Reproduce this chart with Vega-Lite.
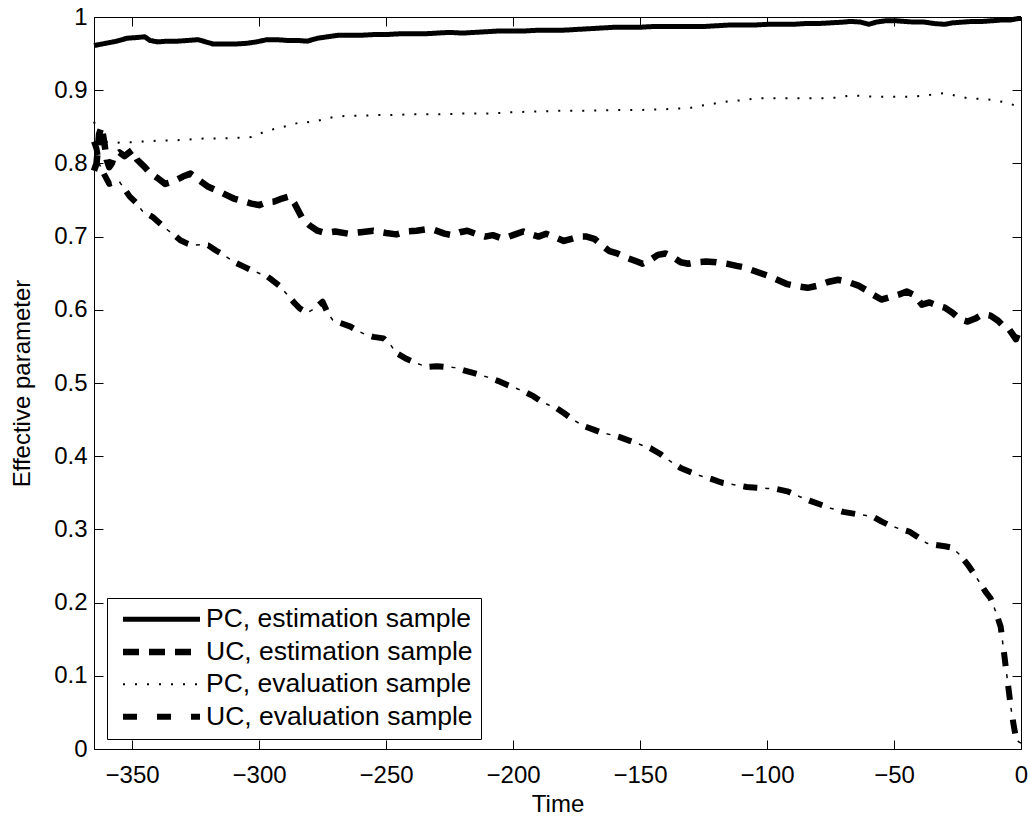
{
  "$schema": "https://vega.github.io/schema/vega-lite/v6.json",
  "width": 927,
  "height": 732,
  "autosize": {"type": "none"},
  "padding": {"left": 94, "top": 17, "right": 9, "bottom": 71},
  "background": "white",
  "data": {"values": [
    {"series": "PC, estimation sample", "t": -365, "v": 0.961},
    {"series": "PC, estimation sample", "t": -362, "v": 0.963},
    {"series": "PC, estimation sample", "t": -359, "v": 0.965},
    {"series": "PC, estimation sample", "t": -356, "v": 0.967},
    {"series": "PC, estimation sample", "t": -352, "v": 0.971},
    {"series": "PC, estimation sample", "t": -348, "v": 0.972},
    {"series": "PC, estimation sample", "t": -345, "v": 0.973},
    {"series": "PC, estimation sample", "t": -343, "v": 0.968},
    {"series": "PC, estimation sample", "t": -340, "v": 0.966},
    {"series": "PC, estimation sample", "t": -336, "v": 0.967},
    {"series": "PC, estimation sample", "t": -332, "v": 0.967},
    {"series": "PC, estimation sample", "t": -328, "v": 0.968},
    {"series": "PC, estimation sample", "t": -324, "v": 0.969},
    {"series": "PC, estimation sample", "t": -321, "v": 0.966},
    {"series": "PC, estimation sample", "t": -318, "v": 0.963},
    {"series": "PC, estimation sample", "t": -314, "v": 0.963},
    {"series": "PC, estimation sample", "t": -310, "v": 0.963},
    {"series": "PC, estimation sample", "t": -305, "v": 0.964},
    {"series": "PC, estimation sample", "t": -301, "v": 0.966},
    {"series": "PC, estimation sample", "t": -297, "v": 0.969},
    {"series": "PC, estimation sample", "t": -293, "v": 0.969},
    {"series": "PC, estimation sample", "t": -289, "v": 0.968},
    {"series": "PC, estimation sample", "t": -285, "v": 0.968},
    {"series": "PC, estimation sample", "t": -281, "v": 0.967},
    {"series": "PC, estimation sample", "t": -277, "v": 0.971},
    {"series": "PC, estimation sample", "t": -273, "v": 0.973},
    {"series": "PC, estimation sample", "t": -269, "v": 0.975},
    {"series": "PC, estimation sample", "t": -265, "v": 0.975},
    {"series": "PC, estimation sample", "t": -260, "v": 0.975},
    {"series": "PC, estimation sample", "t": -255, "v": 0.976},
    {"series": "PC, estimation sample", "t": -250, "v": 0.976},
    {"series": "PC, estimation sample", "t": -245, "v": 0.977},
    {"series": "PC, estimation sample", "t": -240, "v": 0.977},
    {"series": "PC, estimation sample", "t": -235, "v": 0.977},
    {"series": "PC, estimation sample", "t": -230, "v": 0.978},
    {"series": "PC, estimation sample", "t": -225, "v": 0.979},
    {"series": "PC, estimation sample", "t": -220, "v": 0.978},
    {"series": "PC, estimation sample", "t": -215, "v": 0.979},
    {"series": "PC, estimation sample", "t": -210, "v": 0.980},
    {"series": "PC, estimation sample", "t": -205, "v": 0.981},
    {"series": "PC, estimation sample", "t": -200, "v": 0.981},
    {"series": "PC, estimation sample", "t": -195, "v": 0.981},
    {"series": "PC, estimation sample", "t": -190, "v": 0.982},
    {"series": "PC, estimation sample", "t": -185, "v": 0.982},
    {"series": "PC, estimation sample", "t": -180, "v": 0.982},
    {"series": "PC, estimation sample", "t": -175, "v": 0.983},
    {"series": "PC, estimation sample", "t": -170, "v": 0.984},
    {"series": "PC, estimation sample", "t": -165, "v": 0.985},
    {"series": "PC, estimation sample", "t": -160, "v": 0.986},
    {"series": "PC, estimation sample", "t": -155, "v": 0.986},
    {"series": "PC, estimation sample", "t": -150, "v": 0.986},
    {"series": "PC, estimation sample", "t": -145, "v": 0.987},
    {"series": "PC, estimation sample", "t": -140, "v": 0.987},
    {"series": "PC, estimation sample", "t": -135, "v": 0.987},
    {"series": "PC, estimation sample", "t": -130, "v": 0.987},
    {"series": "PC, estimation sample", "t": -125, "v": 0.987},
    {"series": "PC, estimation sample", "t": -120, "v": 0.988},
    {"series": "PC, estimation sample", "t": -115, "v": 0.989},
    {"series": "PC, estimation sample", "t": -110, "v": 0.989},
    {"series": "PC, estimation sample", "t": -105, "v": 0.989},
    {"series": "PC, estimation sample", "t": -100, "v": 0.990},
    {"series": "PC, estimation sample", "t": -95, "v": 0.990},
    {"series": "PC, estimation sample", "t": -90, "v": 0.990},
    {"series": "PC, estimation sample", "t": -85, "v": 0.991},
    {"series": "PC, estimation sample", "t": -80, "v": 0.991},
    {"series": "PC, estimation sample", "t": -75, "v": 0.992},
    {"series": "PC, estimation sample", "t": -70, "v": 0.993},
    {"series": "PC, estimation sample", "t": -67, "v": 0.994},
    {"series": "PC, estimation sample", "t": -63, "v": 0.993},
    {"series": "PC, estimation sample", "t": -60, "v": 0.990},
    {"series": "PC, estimation sample", "t": -57, "v": 0.993},
    {"series": "PC, estimation sample", "t": -53, "v": 0.995},
    {"series": "PC, estimation sample", "t": -50, "v": 0.995},
    {"series": "PC, estimation sample", "t": -46, "v": 0.994},
    {"series": "PC, estimation sample", "t": -42, "v": 0.993},
    {"series": "PC, estimation sample", "t": -38, "v": 0.993},
    {"series": "PC, estimation sample", "t": -34, "v": 0.991},
    {"series": "PC, estimation sample", "t": -30, "v": 0.990},
    {"series": "PC, estimation sample", "t": -27, "v": 0.992},
    {"series": "PC, estimation sample", "t": -23, "v": 0.993},
    {"series": "PC, estimation sample", "t": -19, "v": 0.994},
    {"series": "PC, estimation sample", "t": -15, "v": 0.994},
    {"series": "PC, estimation sample", "t": -11, "v": 0.995},
    {"series": "PC, estimation sample", "t": -7, "v": 0.996},
    {"series": "PC, estimation sample", "t": -4, "v": 0.996},
    {"series": "PC, estimation sample", "t": -1, "v": 0.998},
    {"series": "PC, estimation sample", "t": 0, "v": 0.998},

    {"series": "UC, estimation sample", "t": -365, "v": 0.79},
    {"series": "UC, estimation sample", "t": -364, "v": 0.80},
    {"series": "UC, estimation sample", "t": -363, "v": 0.84},
    {"series": "UC, estimation sample", "t": -362, "v": 0.85},
    {"series": "UC, estimation sample", "t": -361, "v": 0.83},
    {"series": "UC, estimation sample", "t": -360, "v": 0.805},
    {"series": "UC, estimation sample", "t": -359, "v": 0.795},
    {"series": "UC, estimation sample", "t": -358, "v": 0.80},
    {"series": "UC, estimation sample", "t": -357, "v": 0.81},
    {"series": "UC, estimation sample", "t": -355, "v": 0.815},
    {"series": "UC, estimation sample", "t": -353, "v": 0.81},
    {"series": "UC, estimation sample", "t": -350, "v": 0.818},
    {"series": "UC, estimation sample", "t": -348, "v": 0.805},
    {"series": "UC, estimation sample", "t": -345, "v": 0.795},
    {"series": "UC, estimation sample", "t": -343, "v": 0.787},
    {"series": "UC, estimation sample", "t": -340, "v": 0.78},
    {"series": "UC, estimation sample", "t": -337, "v": 0.772},
    {"series": "UC, estimation sample", "t": -334, "v": 0.775},
    {"series": "UC, estimation sample", "t": -330, "v": 0.782},
    {"series": "UC, estimation sample", "t": -327, "v": 0.786},
    {"series": "UC, estimation sample", "t": -324, "v": 0.778},
    {"series": "UC, estimation sample", "t": -320, "v": 0.768},
    {"series": "UC, estimation sample", "t": -316, "v": 0.762},
    {"series": "UC, estimation sample", "t": -313, "v": 0.757},
    {"series": "UC, estimation sample", "t": -310, "v": 0.752},
    {"series": "UC, estimation sample", "t": -306, "v": 0.748},
    {"series": "UC, estimation sample", "t": -303, "v": 0.745},
    {"series": "UC, estimation sample", "t": -300, "v": 0.743},
    {"series": "UC, estimation sample", "t": -297, "v": 0.747},
    {"series": "UC, estimation sample", "t": -294, "v": 0.748},
    {"series": "UC, estimation sample", "t": -291, "v": 0.752},
    {"series": "UC, estimation sample", "t": -288, "v": 0.755},
    {"series": "UC, estimation sample", "t": -286, "v": 0.745},
    {"series": "UC, estimation sample", "t": -283, "v": 0.725},
    {"series": "UC, estimation sample", "t": -280, "v": 0.715},
    {"series": "UC, estimation sample", "t": -277, "v": 0.708},
    {"series": "UC, estimation sample", "t": -274, "v": 0.705},
    {"series": "UC, estimation sample", "t": -270, "v": 0.707},
    {"series": "UC, estimation sample", "t": -265, "v": 0.704},
    {"series": "UC, estimation sample", "t": -260, "v": 0.706},
    {"series": "UC, estimation sample", "t": -255, "v": 0.708},
    {"series": "UC, estimation sample", "t": -250, "v": 0.705},
    {"series": "UC, estimation sample", "t": -246, "v": 0.703},
    {"series": "UC, estimation sample", "t": -242, "v": 0.707},
    {"series": "UC, estimation sample", "t": -238, "v": 0.708},
    {"series": "UC, estimation sample", "t": -234, "v": 0.710},
    {"series": "UC, estimation sample", "t": -231, "v": 0.709},
    {"series": "UC, estimation sample", "t": -227, "v": 0.704},
    {"series": "UC, estimation sample", "t": -224, "v": 0.702},
    {"series": "UC, estimation sample", "t": -221, "v": 0.706},
    {"series": "UC, estimation sample", "t": -218, "v": 0.708},
    {"series": "UC, estimation sample", "t": -214, "v": 0.703},
    {"series": "UC, estimation sample", "t": -211, "v": 0.700},
    {"series": "UC, estimation sample", "t": -208, "v": 0.702},
    {"series": "UC, estimation sample", "t": -204, "v": 0.697},
    {"series": "UC, estimation sample", "t": -200, "v": 0.702},
    {"series": "UC, estimation sample", "t": -196, "v": 0.707},
    {"series": "UC, estimation sample", "t": -193, "v": 0.703},
    {"series": "UC, estimation sample", "t": -190, "v": 0.700},
    {"series": "UC, estimation sample", "t": -187, "v": 0.704},
    {"series": "UC, estimation sample", "t": -184, "v": 0.700},
    {"series": "UC, estimation sample", "t": -180, "v": 0.694},
    {"series": "UC, estimation sample", "t": -177, "v": 0.697},
    {"series": "UC, estimation sample", "t": -174, "v": 0.700},
    {"series": "UC, estimation sample", "t": -171, "v": 0.700},
    {"series": "UC, estimation sample", "t": -168, "v": 0.697},
    {"series": "UC, estimation sample", "t": -165, "v": 0.688},
    {"series": "UC, estimation sample", "t": -162, "v": 0.680},
    {"series": "UC, estimation sample", "t": -159, "v": 0.677},
    {"series": "UC, estimation sample", "t": -156, "v": 0.672},
    {"series": "UC, estimation sample", "t": -152, "v": 0.667},
    {"series": "UC, estimation sample", "t": -149, "v": 0.663},
    {"series": "UC, estimation sample", "t": -146, "v": 0.668},
    {"series": "UC, estimation sample", "t": -143, "v": 0.675},
    {"series": "UC, estimation sample", "t": -140, "v": 0.677},
    {"series": "UC, estimation sample", "t": -137, "v": 0.672},
    {"series": "UC, estimation sample", "t": -134, "v": 0.665},
    {"series": "UC, estimation sample", "t": -131, "v": 0.663},
    {"series": "UC, estimation sample", "t": -128, "v": 0.665},
    {"series": "UC, estimation sample", "t": -124, "v": 0.666},
    {"series": "UC, estimation sample", "t": -120, "v": 0.665},
    {"series": "UC, estimation sample", "t": -116, "v": 0.663},
    {"series": "UC, estimation sample", "t": -112, "v": 0.660},
    {"series": "UC, estimation sample", "t": -109, "v": 0.658},
    {"series": "UC, estimation sample", "t": -105, "v": 0.653},
    {"series": "UC, estimation sample", "t": -100, "v": 0.647},
    {"series": "UC, estimation sample", "t": -96, "v": 0.641},
    {"series": "UC, estimation sample", "t": -92, "v": 0.635},
    {"series": "UC, estimation sample", "t": -88, "v": 0.632},
    {"series": "UC, estimation sample", "t": -84, "v": 0.630},
    {"series": "UC, estimation sample", "t": -80, "v": 0.633},
    {"series": "UC, estimation sample", "t": -76, "v": 0.638},
    {"series": "UC, estimation sample", "t": -72, "v": 0.641},
    {"series": "UC, estimation sample", "t": -68, "v": 0.638},
    {"series": "UC, estimation sample", "t": -64, "v": 0.633},
    {"series": "UC, estimation sample", "t": -61, "v": 0.627},
    {"series": "UC, estimation sample", "t": -58, "v": 0.620},
    {"series": "UC, estimation sample", "t": -55, "v": 0.614},
    {"series": "UC, estimation sample", "t": -52, "v": 0.617},
    {"series": "UC, estimation sample", "t": -48, "v": 0.621},
    {"series": "UC, estimation sample", "t": -45, "v": 0.625},
    {"series": "UC, estimation sample", "t": -42, "v": 0.620},
    {"series": "UC, estimation sample", "t": -39, "v": 0.607},
    {"series": "UC, estimation sample", "t": -36, "v": 0.610},
    {"series": "UC, estimation sample", "t": -33, "v": 0.606},
    {"series": "UC, estimation sample", "t": -30, "v": 0.603},
    {"series": "UC, estimation sample", "t": -27, "v": 0.596},
    {"series": "UC, estimation sample", "t": -24, "v": 0.587},
    {"series": "UC, estimation sample", "t": -21, "v": 0.584},
    {"series": "UC, estimation sample", "t": -18, "v": 0.588},
    {"series": "UC, estimation sample", "t": -15, "v": 0.594},
    {"series": "UC, estimation sample", "t": -12, "v": 0.592},
    {"series": "UC, estimation sample", "t": -9, "v": 0.585},
    {"series": "UC, estimation sample", "t": -7, "v": 0.578},
    {"series": "UC, estimation sample", "t": -5, "v": 0.575},
    {"series": "UC, estimation sample", "t": -3, "v": 0.565},
    {"series": "UC, estimation sample", "t": -2, "v": 0.560},
    {"series": "UC, estimation sample", "t": -1, "v": 0.570},
    {"series": "UC, estimation sample", "t": 0, "v": 0.575},

    {"series": "PC, evaluation sample", "t": -365, "v": 0.857},
    {"series": "PC, evaluation sample", "t": -363, "v": 0.840},
    {"series": "PC, evaluation sample", "t": -361, "v": 0.830},
    {"series": "PC, evaluation sample", "t": -358, "v": 0.828},
    {"series": "PC, evaluation sample", "t": -350, "v": 0.829},
    {"series": "PC, evaluation sample", "t": -340, "v": 0.831},
    {"series": "PC, evaluation sample", "t": -330, "v": 0.832},
    {"series": "PC, evaluation sample", "t": -322, "v": 0.834},
    {"series": "PC, evaluation sample", "t": -315, "v": 0.834},
    {"series": "PC, evaluation sample", "t": -308, "v": 0.835},
    {"series": "PC, evaluation sample", "t": -303, "v": 0.836},
    {"series": "PC, evaluation sample", "t": -298, "v": 0.843},
    {"series": "PC, evaluation sample", "t": -293, "v": 0.848},
    {"series": "PC, evaluation sample", "t": -288, "v": 0.852},
    {"series": "PC, evaluation sample", "t": -283, "v": 0.857},
    {"series": "PC, evaluation sample", "t": -279, "v": 0.856},
    {"series": "PC, evaluation sample", "t": -275, "v": 0.860},
    {"series": "PC, evaluation sample", "t": -270, "v": 0.864},
    {"series": "PC, evaluation sample", "t": -265, "v": 0.865},
    {"series": "PC, evaluation sample", "t": -260, "v": 0.865},
    {"series": "PC, evaluation sample", "t": -255, "v": 0.866},
    {"series": "PC, evaluation sample", "t": -248, "v": 0.866},
    {"series": "PC, evaluation sample", "t": -240, "v": 0.867},
    {"series": "PC, evaluation sample", "t": -230, "v": 0.867},
    {"series": "PC, evaluation sample", "t": -220, "v": 0.868},
    {"series": "PC, evaluation sample", "t": -210, "v": 0.868},
    {"series": "PC, evaluation sample", "t": -200, "v": 0.870},
    {"series": "PC, evaluation sample", "t": -190, "v": 0.871},
    {"series": "PC, evaluation sample", "t": -180, "v": 0.872},
    {"series": "PC, evaluation sample", "t": -170, "v": 0.872},
    {"series": "PC, evaluation sample", "t": -160, "v": 0.873},
    {"series": "PC, evaluation sample", "t": -150, "v": 0.873},
    {"series": "PC, evaluation sample", "t": -140, "v": 0.874},
    {"series": "PC, evaluation sample", "t": -130, "v": 0.876},
    {"series": "PC, evaluation sample", "t": -126, "v": 0.879},
    {"series": "PC, evaluation sample", "t": -122, "v": 0.881},
    {"series": "PC, evaluation sample", "t": -117, "v": 0.884},
    {"series": "PC, evaluation sample", "t": -111, "v": 0.886},
    {"series": "PC, evaluation sample", "t": -104, "v": 0.889},
    {"series": "PC, evaluation sample", "t": -97, "v": 0.889},
    {"series": "PC, evaluation sample", "t": -91, "v": 0.889},
    {"series": "PC, evaluation sample", "t": -84, "v": 0.889},
    {"series": "PC, evaluation sample", "t": -78, "v": 0.889},
    {"series": "PC, evaluation sample", "t": -72, "v": 0.890},
    {"series": "PC, evaluation sample", "t": -67, "v": 0.893},
    {"series": "PC, evaluation sample", "t": -62, "v": 0.892},
    {"series": "PC, evaluation sample", "t": -57, "v": 0.891},
    {"series": "PC, evaluation sample", "t": -50, "v": 0.891},
    {"series": "PC, evaluation sample", "t": -44, "v": 0.891},
    {"series": "PC, evaluation sample", "t": -37, "v": 0.893},
    {"series": "PC, evaluation sample", "t": -30, "v": 0.896},
    {"series": "PC, evaluation sample", "t": -25, "v": 0.892},
    {"series": "PC, evaluation sample", "t": -21, "v": 0.889},
    {"series": "PC, evaluation sample", "t": -16, "v": 0.888},
    {"series": "PC, evaluation sample", "t": -12, "v": 0.887},
    {"series": "PC, evaluation sample", "t": -7, "v": 0.884},
    {"series": "PC, evaluation sample", "t": -3, "v": 0.880},
    {"series": "PC, evaluation sample", "t": 0, "v": 0.878},

    {"series": "UC, evaluation sample", "t": -365, "v": 0.830},
    {"series": "UC, evaluation sample", "t": -364, "v": 0.820},
    {"series": "UC, evaluation sample", "t": -363, "v": 0.800},
    {"series": "UC, evaluation sample", "t": -361, "v": 0.785},
    {"series": "UC, evaluation sample", "t": -359, "v": 0.772},
    {"series": "UC, evaluation sample", "t": -357, "v": 0.774},
    {"series": "UC, evaluation sample", "t": -355, "v": 0.775},
    {"series": "UC, evaluation sample", "t": -353, "v": 0.765},
    {"series": "UC, evaluation sample", "t": -351, "v": 0.755},
    {"series": "UC, evaluation sample", "t": -348, "v": 0.745},
    {"series": "UC, evaluation sample", "t": -346, "v": 0.735},
    {"series": "UC, evaluation sample", "t": -342, "v": 0.727},
    {"series": "UC, evaluation sample", "t": -339, "v": 0.718},
    {"series": "UC, evaluation sample", "t": -336, "v": 0.709},
    {"series": "UC, evaluation sample", "t": -333, "v": 0.701},
    {"series": "UC, evaluation sample", "t": -331, "v": 0.695},
    {"series": "UC, evaluation sample", "t": -328, "v": 0.690},
    {"series": "UC, evaluation sample", "t": -326, "v": 0.688},
    {"series": "UC, evaluation sample", "t": -323, "v": 0.689},
    {"series": "UC, evaluation sample", "t": -320, "v": 0.688},
    {"series": "UC, evaluation sample", "t": -317, "v": 0.681},
    {"series": "UC, evaluation sample", "t": -314, "v": 0.675},
    {"series": "UC, evaluation sample", "t": -311, "v": 0.668},
    {"series": "UC, evaluation sample", "t": -309, "v": 0.664},
    {"series": "UC, evaluation sample", "t": -306, "v": 0.659},
    {"series": "UC, evaluation sample", "t": -303, "v": 0.654},
    {"series": "UC, evaluation sample", "t": -300, "v": 0.650},
    {"series": "UC, evaluation sample", "t": -297, "v": 0.646},
    {"series": "UC, evaluation sample", "t": -295, "v": 0.641},
    {"series": "UC, evaluation sample", "t": -292, "v": 0.633},
    {"series": "UC, evaluation sample", "t": -290, "v": 0.625},
    {"series": "UC, evaluation sample", "t": -288, "v": 0.617},
    {"series": "UC, evaluation sample", "t": -286, "v": 0.609},
    {"series": "UC, evaluation sample", "t": -284, "v": 0.602},
    {"series": "UC, evaluation sample", "t": -281, "v": 0.596},
    {"series": "UC, evaluation sample", "t": -278, "v": 0.602},
    {"series": "UC, evaluation sample", "t": -275, "v": 0.611},
    {"series": "UC, evaluation sample", "t": -273, "v": 0.596},
    {"series": "UC, evaluation sample", "t": -271, "v": 0.586},
    {"series": "UC, evaluation sample", "t": -268, "v": 0.582},
    {"series": "UC, evaluation sample", "t": -264, "v": 0.577},
    {"series": "UC, evaluation sample", "t": -261, "v": 0.571},
    {"series": "UC, evaluation sample", "t": -258, "v": 0.566},
    {"series": "UC, evaluation sample", "t": -255, "v": 0.563},
    {"series": "UC, evaluation sample", "t": -251, "v": 0.561},
    {"series": "UC, evaluation sample", "t": -248, "v": 0.551},
    {"series": "UC, evaluation sample", "t": -246, "v": 0.541},
    {"series": "UC, evaluation sample", "t": -242, "v": 0.533},
    {"series": "UC, evaluation sample", "t": -238, "v": 0.527},
    {"series": "UC, evaluation sample", "t": -234, "v": 0.522},
    {"series": "UC, evaluation sample", "t": -230, "v": 0.523},
    {"series": "UC, evaluation sample", "t": -226, "v": 0.522},
    {"series": "UC, evaluation sample", "t": -223, "v": 0.521},
    {"series": "UC, evaluation sample", "t": -219, "v": 0.517},
    {"series": "UC, evaluation sample", "t": -215, "v": 0.513},
    {"series": "UC, evaluation sample", "t": -210, "v": 0.508},
    {"series": "UC, evaluation sample", "t": -206, "v": 0.503},
    {"series": "UC, evaluation sample", "t": -202, "v": 0.497},
    {"series": "UC, evaluation sample", "t": -199, "v": 0.493},
    {"series": "UC, evaluation sample", "t": -196, "v": 0.489},
    {"series": "UC, evaluation sample", "t": -192, "v": 0.482},
    {"series": "UC, evaluation sample", "t": -189, "v": 0.475},
    {"series": "UC, evaluation sample", "t": -186, "v": 0.470},
    {"series": "UC, evaluation sample", "t": -183, "v": 0.466},
    {"series": "UC, evaluation sample", "t": -180, "v": 0.459},
    {"series": "UC, evaluation sample", "t": -176, "v": 0.449},
    {"series": "UC, evaluation sample", "t": -172, "v": 0.441},
    {"series": "UC, evaluation sample", "t": -168, "v": 0.436},
    {"series": "UC, evaluation sample", "t": -165, "v": 0.432},
    {"series": "UC, evaluation sample", "t": -161, "v": 0.429},
    {"series": "UC, evaluation sample", "t": -158, "v": 0.426},
    {"series": "UC, evaluation sample", "t": -154, "v": 0.421},
    {"series": "UC, evaluation sample", "t": -150, "v": 0.416},
    {"series": "UC, evaluation sample", "t": -146, "v": 0.411},
    {"series": "UC, evaluation sample", "t": -142, "v": 0.403},
    {"series": "UC, evaluation sample", "t": -138, "v": 0.393},
    {"series": "UC, evaluation sample", "t": -134, "v": 0.384},
    {"series": "UC, evaluation sample", "t": -130, "v": 0.378},
    {"series": "UC, evaluation sample", "t": -127, "v": 0.374},
    {"series": "UC, evaluation sample", "t": -122, "v": 0.369},
    {"series": "UC, evaluation sample", "t": -118, "v": 0.364},
    {"series": "UC, evaluation sample", "t": -113, "v": 0.361},
    {"series": "UC, evaluation sample", "t": -108, "v": 0.358},
    {"series": "UC, evaluation sample", "t": -104, "v": 0.357},
    {"series": "UC, evaluation sample", "t": -100, "v": 0.356},
    {"series": "UC, evaluation sample", "t": -96, "v": 0.355},
    {"series": "UC, evaluation sample", "t": -92, "v": 0.352},
    {"series": "UC, evaluation sample", "t": -88, "v": 0.346},
    {"series": "UC, evaluation sample", "t": -83, "v": 0.339},
    {"series": "UC, evaluation sample", "t": -79, "v": 0.334},
    {"series": "UC, evaluation sample", "t": -75, "v": 0.329},
    {"series": "UC, evaluation sample", "t": -70, "v": 0.324},
    {"series": "UC, evaluation sample", "t": -65, "v": 0.321},
    {"series": "UC, evaluation sample", "t": -61, "v": 0.319},
    {"series": "UC, evaluation sample", "t": -58, "v": 0.317},
    {"series": "UC, evaluation sample", "t": -55, "v": 0.311},
    {"series": "UC, evaluation sample", "t": -52, "v": 0.306},
    {"series": "UC, evaluation sample", "t": -48, "v": 0.301},
    {"series": "UC, evaluation sample", "t": -44, "v": 0.297},
    {"series": "UC, evaluation sample", "t": -40, "v": 0.288},
    {"series": "UC, evaluation sample", "t": -37, "v": 0.281},
    {"series": "UC, evaluation sample", "t": -34, "v": 0.279},
    {"series": "UC, evaluation sample", "t": -30, "v": 0.277},
    {"series": "UC, evaluation sample", "t": -27, "v": 0.275},
    {"series": "UC, evaluation sample", "t": -24, "v": 0.265},
    {"series": "UC, evaluation sample", "t": -21, "v": 0.252},
    {"series": "UC, evaluation sample", "t": -19, "v": 0.242},
    {"series": "UC, evaluation sample", "t": -16, "v": 0.226},
    {"series": "UC, evaluation sample", "t": -14, "v": 0.215},
    {"series": "UC, evaluation sample", "t": -12, "v": 0.206},
    {"series": "UC, evaluation sample", "t": -10, "v": 0.188},
    {"series": "UC, evaluation sample", "t": -8, "v": 0.167},
    {"series": "UC, evaluation sample", "t": -7, "v": 0.140},
    {"series": "UC, evaluation sample", "t": -6, "v": 0.112},
    {"series": "UC, evaluation sample", "t": -5, "v": 0.085},
    {"series": "UC, evaluation sample", "t": -4, "v": 0.057},
    {"series": "UC, evaluation sample", "t": -3, "v": 0.035},
    {"series": "UC, evaluation sample", "t": -2, "v": 0.015},
    {"series": "UC, evaluation sample", "t": -1, "v": 0.010},
    {"series": "UC, evaluation sample", "t": 0, "v": 0.008}
  ]},
  "layer": [
    {
      "mark": {"type": "line", "color": "black", "strokeCap": "butt", "strokeJoin": "round"},
      "encoding": {
        "x": {"field": "t", "type": "quantitative",
              "scale": {"domain": [-365, 0], "nice": false, "zero": false},
              "axis": {"orient": "bottom", "title": "Time", "values": [-350, -300, -250, -200, -150, -100, -50, 0],
                       "labelPadding": 23, "titlePadding": 5, "labelFlush": false, "labelOverlap": false}},
        "y": {"field": "v", "type": "quantitative",
              "scale": {"domain": [0, 1], "nice": false, "zero": false},
              "axis": {"orient": "left", "title": "Effective parameter", "values": [0, 0.1, 0.2, 0.3, 0.4, 0.5, 0.6, 0.7, 0.8, 0.9, 1],
                       "format": ".1~f", "labelPadding": 16, "titlePadding": 19, "labelFlush": false, "labelOverlap": false}},
        "strokeDash": {"field": "series", "type": "nominal",
              "scale": {"domain": ["PC, estimation sample", "UC, estimation sample", "PC, evaluation sample", "UC, evaluation sample"],
                        "range": [[1, 0], [16, 10], [2, 10], [14, 20]]},
              "legend": {"title": null}},
        "strokeWidth": {"field": "series", "type": "nominal",
              "scale": {"type": "ordinal", "domain": ["PC, estimation sample", "UC, estimation sample", "PC, evaluation sample", "UC, evaluation sample"],
                        "range": [5, 6.5, 2, 6]},
              "legend": {"title": null}}
      }
    },
    {
      "transform": [{"filter": {"field": "series", "equal": "UC, evaluation sample"}}],
      "mark": {"type": "line", "color": "black", "strokeWidth": 1.5, "strokeDash": [0, 22, 4, 8], "strokeCap": "butt"},
      "encoding": {
        "x": {"field": "t", "type": "quantitative",
              "axis": {"orient": "top", "title": null, "labels": false, "values": [-350, -300, -250, -200, -150, -100, -50, 0], "domain": false}},
        "y": {"field": "v", "type": "quantitative",
              "axis": {"orient": "right", "title": null, "labels": false, "values": [0, 0.1, 0.2, 0.3, 0.4, 0.5, 0.6, 0.7, 0.8, 0.9, 1], "domain": false}}
      }
    }
  ],
  "resolve": {"axis": {"x": "independent", "y": "independent"}},
  "config": {
    "view": {"stroke": "black", "strokeWidth": 1},
    "axis": {"grid": false, "domainColor": "black", "domainWidth": 1, "tickColor": "black", "tickWidth": 1, "tickSize": -9,
             "labelColor": "black", "titleColor": "black", "labelFont": "Liberation Sans", "titleFont": "Liberation Sans",
             "labelFontSize": 24, "titleFontSize": 24, "titleFontWeight": "normal"},
    "legend": {"orient": "none", "legendX": 13, "legendY": 581, "strokeColor": "black", "fillColor": "white",
               "padding": 8, "symbolType": "M-3.85,0H3.85", "symbolSize": 400, "symbolStrokeColor": "black",
               "symbolOffset": 33, "labelOffset": 31, "labelFont": "Liberation Sans", "labelFontSize": 26.5,
               "labelColor": "black", "rowPadding": 5.5, "labelLimit": 400}
  }
}
